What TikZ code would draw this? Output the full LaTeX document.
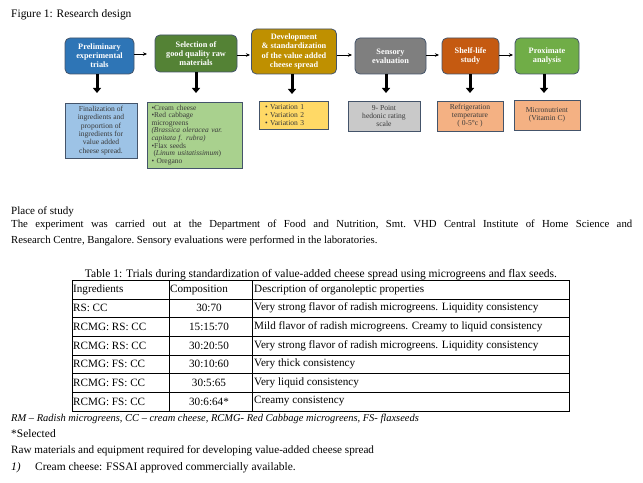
\documentclass[tikz,border=0pt]{standalone}
\usepackage{fontspec}
\setmainfont{Liberation Serif}
\usetikzlibrary{arrows.meta}
\definecolor{bordc}{HTML}{44546A}
\definecolor{txtc}{HTML}{3A3A3A}
\definecolor{tblue}{HTML}{2E75B6}
\definecolor{tgreen}{HTML}{548235}
\definecolor{tgold}{HTML}{BF9000}
\definecolor{tgray}{HTML}{7F7F7F}
\definecolor{torange}{HTML}{C55A11}
\definecolor{tlgreen}{HTML}{70AD47}
\definecolor{bblue}{HTML}{9DC3E6}
\definecolor{bgreen}{HTML}{A9D18E}
\definecolor{byellow}{HTML}{FFD966}
\definecolor{bgray}{HTML}{C9C9C9}
\definecolor{borange}{HTML}{F4B183}
\begin{document}
\begin{tikzpicture}[x=1bp,y=-1bp,
  topbox/.style={draw=bordc, line width=0.8bp, rounded corners=5bp, text=white,
    font=\fontsize{8.3}{9.2}\selectfont\bfseries, align=center, inner sep=1bp},
  subbox/.style={draw=bordc, line width=0.9bp, text=txtc,
    font=\fontsize{7.6}{8.4}\selectfont, align=center, inner sep=1bp},
  thinarr/.style={-{Stealth[length=4bp,width=3.5bp]}, line width=0.6bp},
  thickarr/.style={-{Triangle[length=5bp,width=8bp]}, line width=3bp},
  body/.style={font=\fontsize{11.5}{16}\selectfont, inner sep=0pt, anchor=base west},
  cell/.style={font=\fontsize{11.2}{14}\selectfont, inner sep=0pt, anchor=west},
  cellc/.style={font=\fontsize{11.2}{14}\selectfont, inner sep=0pt, anchor=center}
]
\useasboundingbox[fill=white] (0,0) rectangle (643,483);

\node[body] (fig) at (11,18) {Figure 1: Research design};

% top boxes
\node[topbox, fill=tblue, minimum width=69bp, minimum height=36bp] (t1) at (99.5,56) {Preliminary\\experimental\\trials};
\node[topbox, fill=tgreen, minimum width=82bp, minimum height=37bp] (t2) at (196,53.5) {Selection of\\good quality raw\\materials};
\node[topbox, fill=tgold, minimum width=85bp, minimum height=45bp] (t3) at (294,51.5) {Development\\\& standardization\\of the value added\\cheese spread};
\node[topbox, fill=tgray, minimum width=71bp, minimum height=36bp] (t4) at (390.5,56) {Sensory\\evaluation};
\node[topbox, fill=torange, minimum width=57bp, minimum height=36bp] (t5) at (470.5,56) {Shelf-life\\study};
\node[topbox, fill=tlgreen, minimum width=64bp, minimum height=36bp] (t6) at (547,56) {Proximate\\analysis};

% thin arrows
\coordinate (h1) at (147,54);
\coordinate (h2) at (250,55);
\coordinate (h3) at (352,55);
\coordinate (h4) at (439,55);
\coordinate (h5) at (513,55);
\draw[thinarr] (t1.east |- h1) -- (h1);
\draw[thinarr] (t2.east |- h2) -- (h2);
\draw[thinarr] (t3.east |- h3) -- (h3);
\draw[thinarr] (t4.east |- h4) -- (h4);
\draw[thinarr] (t5.east |- h5) -- (h5);

% thick arrows
\coordinate (d1) at (97,93);
\coordinate (d2) at (196,93);
\coordinate (d3) at (292,94);
\coordinate (d4) at (386,93);
\coordinate (d5) at (470,93);
\coordinate (d6) at (544,93);
\draw[thickarr] (d1 |- t1.south) -- (d1);
\draw[thickarr] (d2 |- t2.south) -- (d2);
\draw[thickarr] (d3 |- t3.south) -- (d3);
\draw[thickarr] (d4 |- t4.south) -- (d4);
\draw[thickarr] (d5 |- t5.south) -- (d5);
\draw[thickarr] (d6 |- t6.south) -- (d6);

% bottom boxes
\node[subbox, fill=bblue, minimum width=72bp, minimum height=55bp] (b1) at (101,130.5)
  {Finalization of\\ingredients and\\proportion of\\ingredients for\\value added\\cheese spread.};
\node[subbox, fill=bgreen, align=left, text width=86bp, inner xsep=4.5bp, minimum height=66bp,
  font=\fontsize{7.5}{7.6}\selectfont] (b2) at (194.5,135)
  {\textbullet Cream cheese\\\textbullet Red cabbage\\microgreens\\\textit{(Brassica oleracea var.}\\\textit{capitata f. rubra)}\\\textbullet Flax seeds\\\hspace*{2bp}(\textit{Linum usitatissimum})\\\textbullet{} Oregano};
\node[subbox, fill=byellow, align=left, text width=57bp, inner xsep=6bp, minimum height=28bp,
  font=\fontsize{7.6}{7.6}\selectfont] (b3) at (293.5,115)
  {\textbullet{} Variation 1\\\textbullet{} Variation 2\\\textbullet{} Variation 3};
\node[subbox, fill=bgray, minimum width=72bp, minimum height=30bp, font=\fontsize{7.6}{8}\selectfont] (b4) at (384,116)
  {9- Point\\hedonic rating\\scale};
\node[subbox, fill=borange, minimum width=66bp, minimum height=30bp, font=\fontsize{7.6}{8}\selectfont] (b5) at (470,116)
  {Refrigeration\\temperature\\( 0-5\textdegree c )};
\node[subbox, fill=borange, minimum width=66bp, minimum height=30bp, font=\fontsize{7.6}{8}\selectfont] (b6) at (547,115)
  {Micronutrient\\(Vitamin C)};

% place of study
\node[body, font=\fontsize{11.1}{16}\selectfont] (pos) at (11,215) {Place of study};
\node[font=\fontsize{10.8}{16}\selectfont, inner sep=0pt, anchor=north west, text width=621bp, align=justify] (para) at (11,220)
  {\frenchspacing The experiment was carried out at the Department of Food and Nutrition, Smt. VHD Central Institute of Home Science and\linebreak Research Centre, Bangalore. Sensory evaluations were performed in the laboratories.};

% table
\node[font=\fontsize{11.6}{14}\selectfont, inner sep=0pt, anchor=base] (ttl) at (321,277) {Table 1: Trials during standardization of value-added cheese spread using microgreens and flax seeds.};
\draw[line width=0.8bp] (72,280) rectangle (569,411);
\foreach \yy in {299,317,336,355,373,392} \draw[line width=0.8bp] (72,\yy) -- (569,\yy);
\draw[line width=0.8bp] (169,280) -- (169,411);
\draw[line width=0.8bp] (252,280) -- (252,411);

\node[cell] (h-1) at (73,289.5) {Ingredients};
\node[cell] (h-2) at (170,289.5) {Composition};
\node[cell] (h-3) at (254,289.5) {Description of organoleptic properties};
\foreach \i/\yy/\a/\b/\c in {
  1/308/{RS: CC}/{30:70}/{Very strong flavor of radish microgreens. Liquidity consistency},
  2/326.5/{RCMG: RS: CC}/{15:15:70}/{Mild flavor of radish microgreens. Creamy to liquid consistency},
  3/345.5/{RCMG: RS: CC}/{30:20:50}/{Very strong flavor of radish microgreens. Liquidity consistency},
  4/364/{RCMG: FS: CC}/{30:10:60}/{Very thick consistency},
  5/382.5/{RCMG: FS: CC}/{30:5:65}/{Very liquid consistency},
  6/401.5/{RCMG: FS: CC}/{30:6:64*}/{Creamy consistency}} {
  \node[cell] (r\i-1) at (73,\yy) {\a};
  \node[cellc] (r\i-2) at (209,\yy) {\b};
  \node[cell] (r\i-3) at (254,\yy) {\c};
}

\node[body, font=\fontsize{10.5}{16}\selectfont] (fn) at (11,421) {\textit{RM – Radish microgreens, CC – cream cheese, RCMG- Red Cabbage microgreens, FS- flaxseeds}};
\node[body] (sel) at (11,437) {*Selected};
\node[body, font=\fontsize{11.2}{16}\selectfont] (raw) at (11,453) {Raw materials and equipment required for developing value-added cheese spread};
\node[body] (it1) at (11,470) {\textit{1)}};
\node[body] (it1t) at (35,470) {Cream cheese: FSSAI approved commercially available.};
\end{tikzpicture}
\end{document}
